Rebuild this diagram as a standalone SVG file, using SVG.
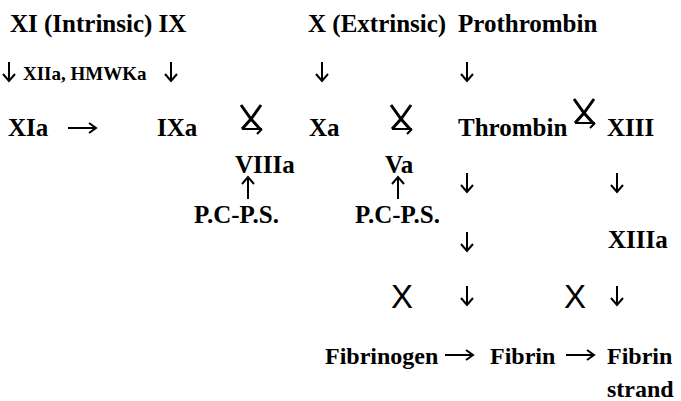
<svg xmlns="http://www.w3.org/2000/svg" width="681" height="401" viewBox="0 0 681 401">
  <defs>
    <style>
      .t { font-family: "Liberation Serif", "Times New Roman", serif; font-weight: bold; font-size: 25px; fill: #000; }
      .b { font-family: "Liberation Serif", "Times New Roman", serif; font-weight: bold; font-size: 24px; fill: #000; }
      .s { font-family: "Liberation Serif", "Times New Roman", serif; font-weight: bold; font-size: 19px; fill: #000; }
      .big { font-family: "Liberation Sans", Arial, sans-serif; font-size: 33px; fill: #000; }
      .arr { fill: none; stroke: #000; stroke-width: 2; stroke-linecap: butt; stroke-linejoin: miter; }
      .cat { fill: none; stroke: #000; stroke-linecap: butt; stroke-linejoin: miter; }
    </style>
    <!-- plain arrows, origin at the tail -->
    <g id="down"><path class="arr" d="M0,0 V19 M-6,12 L0,19 L6,12"/></g>
    <g id="up"><path class="arr" d="M0,0 V-22 M-6,-15 L0,-22 L6,-15"/></g>
    <g id="right"><path class="arr" d="M0,0 H28 M21,-5 L28,0 L21,5"/></g>
    <!-- crossed catalysis sign: an X whose lower half closes into a right-pointing arrow -->
    <g id="xarrow">
      <path class="cat" stroke-width="3" d="M1,0 L11,14 L20,24 M21,0 L11,14 L2,24"/>
      <path class="cat" stroke-width="2" d="M2,24 L22,24 M22,24 L17,29"/>
    </g>
  </defs>

  <rect width="681" height="401" fill="#fff"/>

  <!-- top row: starting factors -->
  <g id="n-xi"><text class="t" x="10" y="32">XI (Intrinsic) IX</text></g>
  <g id="n-x"><text class="t" x="308" y="32">X (Extrinsic)</text></g>
  <g id="n-prothrombin"><text class="t" x="458" y="32">Prothrombin</text></g>

  <!-- activators -->
  <g id="n-activators"><text class="s" x="23" y="80">XIIa, HMWKa</text></g>

  <!-- activated factors -->
  <g id="n-xia"><text class="t" x="8" y="136">XIa</text></g>
  <g id="n-ixa"><text class="t" x="157" y="136">IXa</text></g>
  <g id="n-xa"><text class="t" x="309" y="136">Xa</text></g>
  <g id="n-thrombin"><text class="t" x="458" y="136">Thrombin</text></g>
  <g id="n-xiii"><text class="t" x="607" y="136">XIII</text></g>

  <!-- cofactors and inhibitors -->
  <g id="n-viiia"><text class="t" x="235" y="173">VIIIa</text></g>
  <g id="n-va"><text class="t" x="385" y="173">Va</text></g>
  <g id="n-pcps1"><text class="t" x="194" y="223">P.C-P.S.</text></g>
  <g id="n-pcps2"><text class="t" x="355" y="223">P.C-P.S.</text></g>

  <g id="n-xiiia"><text class="t" x="608" y="248">XIIIa</text></g>

  <!-- bottom row: fibrin formation -->
  <g id="n-fibrinogen"><text class="b" x="325" y="364">Fibrinogen</text></g>
  <g id="n-fibrin"><text class="b" x="490" y="364">Fibrin</text></g>
  <g id="n-fibrin-strand">
    <text class="b" x="607" y="364">Fibrin</text>
    <text class="b" x="607" y="397">strand</text>
  </g>

  <!-- connectors -->
  <g id="connectors">
    <use href="#down" x="9" y="62"/>
    <use href="#down" x="171" y="62"/>
    <use href="#down" x="322" y="62"/>
    <use href="#down" x="467" y="62"/>

    <use href="#right" x="68" y="128"/>

    <use href="#xarrow" x="240" y="105"/>
    <use href="#xarrow" x="390" y="105"/>
    <use href="#xarrow" x="573" y="99"/>

    <use href="#up" x="248" y="199"/>
    <use href="#up" x="398" y="199"/>

    <use href="#down" x="467" y="173"/>
    <use href="#down" x="617" y="173"/>
    <use href="#down" x="467" y="232"/>

    <text class="big" x="391" y="308">X</text>
    <use href="#down" x="467" y="286"/>
    <text class="big" x="564" y="308">X</text>
    <use href="#down" x="617" y="286"/>

    <use href="#right" x="445" y="355"/>
    <use href="#right" x="566" y="355"/>
  </g>
</svg>
